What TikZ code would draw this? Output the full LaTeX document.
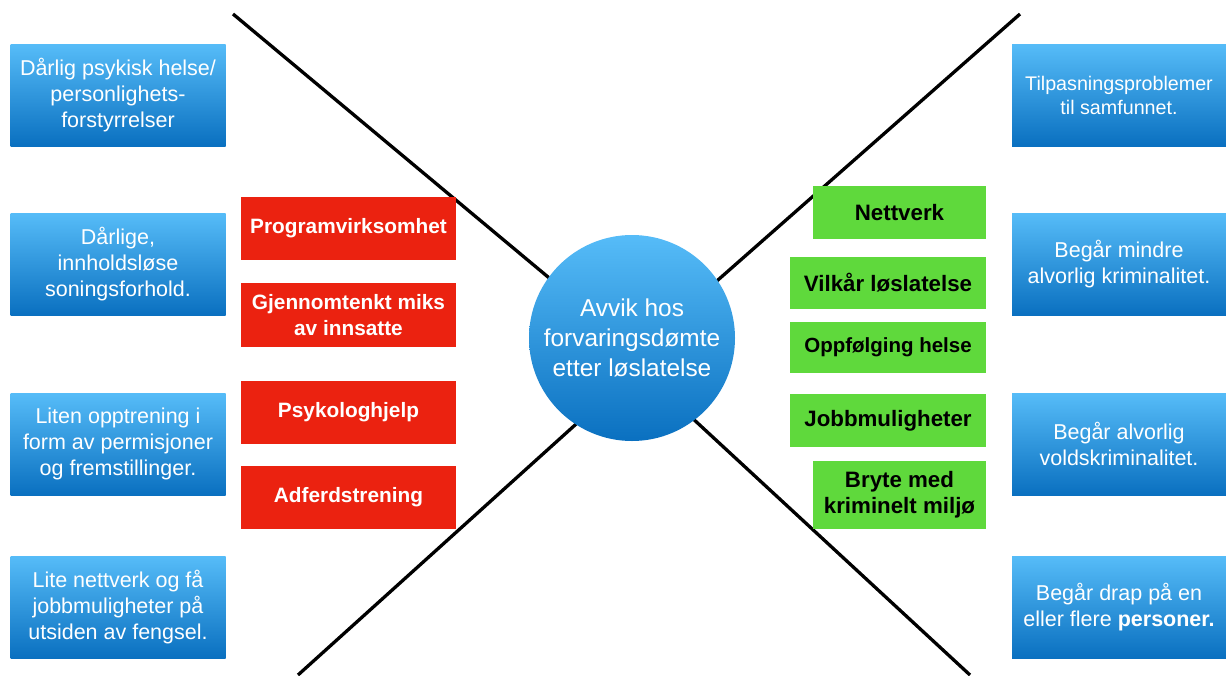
\documentclass[tikz,border=0pt]{standalone}
\usepackage{fontspec}
\setmainfont{Liberation Sans}
\definecolor{bluetop}{HTML}{56BCF8}
\definecolor{bluebot}{HTML}{0A70C0}
\definecolor{redc}{HTML}{EB2210}
\definecolor{greenc}{HTML}{5FD93C}
\tikzset{
  boxbase/.style={rectangle, draw=none, align=center, inner sep=0pt},
  bluebox/.style={boxbase, minimum width=215pt, minimum height=102pt,
    top color=bluetop, bottom color=bluebot, text=white,
    font=\fontsize{21.5}{26}\selectfont},
  redbox/.style={boxbase, minimum width=215pt, minimum height=63pt,
    fill=redc, text=white, font=\bfseries\fontsize{20.8}{25.5}\selectfont},
  greenbox/.style={boxbase, minimum height=52pt,
    fill=greenc, text=black, font=\bfseries\fontsize{22.3}{26}\selectfont},
  xline/.style={line width=3.3pt, black},
  hub/.style={circle, minimum size=206pt, inner sep=0pt, top color=bluetop,
    bottom color=bluebot, text=white, align=center,
    font=\fontsize{24.4}{30}\selectfont}
}
\begin{document}
\begin{tikzpicture}[x=1pt,y=1pt]
\useasboundingbox (0,0) rectangle (1226,-675);
% X lines
\coordinate (tlA) at (233,-14);  \coordinate (tlB) at (560,-287);
\coordinate (trA) at (1020,-14); \coordinate (trB) at (710,-287);
\coordinate (blA) at (298,-675); \coordinate (blB) at (585,-416);
\coordinate (brA) at (970,-675); \coordinate (brB) at (690,-416);
\draw[xline] (tlA) -- (tlB);
\draw[xline] (trA) -- (trB);
\draw[xline] (blA) -- (blB);
\draw[xline] (brA) -- (brB);
% hub
\node[hub] (hub) at (632,-338) {Avvik hos\\forvaringsdømte\\etter løslatelse};
% left blue boxes
\node[bluebox] (l1) at (118,-95) {Dårlig psykisk helse/\\personlighets-\\forstyrrelser};
\node[bluebox] (l2) at (118,-264) {Dårlige,\\innholdsløse\\soningsforhold.};
\node[bluebox] (l3) at (118,-444) {Liten opptrening i\\form av permisjoner\\og fremstillinger.};
\node[bluebox] (l4) at (118,-607) {Lite nettverk og få\\jobbmuligheter på\\utsiden av fengsel.};
% right blue boxes
\node[bluebox, minimum width=214pt, font=\fontsize{19.7}{24}\selectfont] (r1) at (1119,-95) {Tilpasningsproblemer\\til samfunnet.};
\node[bluebox, minimum width=214pt] (r2) at (1119,-264) {Begår mindre\\alvorlig kriminalitet.};
\node[bluebox, minimum width=214pt] (r3) at (1119,-444) {Begår alvorlig\\voldskriminalitet.};
\node[bluebox, minimum width=214pt] (r4) at (1119,-607) {Begår drap på en\\eller flere \textbf{personer.}};
% red boxes
\node[redbox] (p1) at (348.5,-228.5) {Programvirksomhet};
\node[redbox, minimum height=64pt] (p2) at (348.5,-315) {Gjennomtenkt miks\\av innsatte};
\node[redbox] (p3) at (348.5,-412.5) {Psykologhjelp};
\node[redbox] (p4) at (348.5,-497.5) {Adferdstrening};
% green boxes
\node[greenbox, minimum width=173pt, minimum height=53pt] (g1) at (899.5,-212.5) {Nettverk};
\node[greenbox, minimum width=196pt] (g2) at (888,-283) {Vilkår løslatelse};
\node[greenbox, minimum width=196pt, minimum height=51pt, font=\bfseries\fontsize{20.5}{25}\selectfont] (g3) at (888,-347.5) {Oppfølging helse};
\node[greenbox, minimum width=196pt, minimum height=53pt] (g4) at (888,-420.5) {Jobbmuligheter};
\node[greenbox, minimum width=173pt, minimum height=68pt] (g5) at (899.5,-495) {Bryte med\\kriminelt miljø};
\end{tikzpicture}
\end{document}
